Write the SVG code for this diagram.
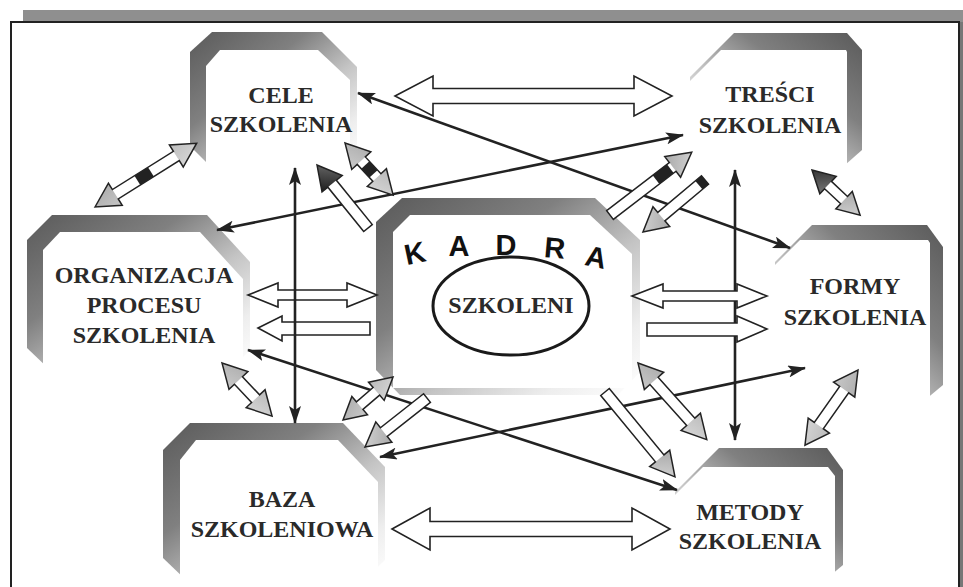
<svg xmlns="http://www.w3.org/2000/svg" width="963" height="587" viewBox="0 0 963 587">
<defs>
<linearGradient id="gl" x1="0" y1="0" x2="1" y2="1">
<stop offset="0" stop-color="#5a5a5a"/><stop offset="0.35" stop-color="#808080"/><stop offset="0.6" stop-color="#c4c4c4"/><stop offset="0.82" stop-color="#eeeeee"/><stop offset="1" stop-color="#ffffff"/>
</linearGradient>
<linearGradient id="gr" x1="1" y1="0" x2="0" y2="1">
<stop offset="0" stop-color="#5a5a5a"/><stop offset="0.35" stop-color="#808080"/><stop offset="0.6" stop-color="#c4c4c4"/><stop offset="0.82" stop-color="#eeeeee"/><stop offset="1" stop-color="#ffffff"/>
</linearGradient>
<linearGradient id="hg" x1="0" y1="0" x2="1" y2="1">
<stop offset="0" stop-color="#a9a9a9"/><stop offset="1" stop-color="#dadada"/>
</linearGradient>
<linearGradient id="hgd" x1="0" y1="0" x2="1" y2="1">
<stop offset="0" stop-color="#1e1e1e"/><stop offset="1" stop-color="#777"/>
</linearGradient>
<marker id="mk" viewBox="0 0 18 12" refX="17" refY="6" markerWidth="18" markerHeight="12" markerUnits="userSpaceOnUse" orient="auto-start-reverse">
<path d="M0,0 L18,6 L0,12 L4,6 Z" fill="#222"/>
</marker>
</defs>
<style>
.ol{fill:url(#gl)}
.or{fill:url(#gr)}
.in{fill:#fff}
.t{font-family:"Liberation Serif","Times New Roman",serif;font-weight:bold;font-size:24px;fill:#2a2a2a;text-anchor:middle}
.k{font-family:"Liberation Sans",Arial,sans-serif;font-weight:bold;font-size:29px;fill:#111;text-anchor:middle}
.ln{stroke:#222;stroke-width:2.6;fill:none;marker-start:url(#mk);marker-end:url(#mk)}
.hw{fill:#fff;stroke:#222;stroke-width:1.6}
.aw{fill:#fff}
.ah{fill:url(#hg)}
.ahd{fill:url(#hgd)}
.ao{fill:none;stroke:#222;stroke-width:1.5}
.db{fill:#222}
</style>

<g id="frame">
<rect x="23" y="10" width="940" height="12" fill="#8f8f8f"/>
<rect x="959" y="22" width="4" height="565" fill="#777"/>
<path d="M11,587 L11,22 L959,22 L959,587" fill="none" stroke="#222" stroke-width="2"/>
</g>

<g id="node-cele">
<path class="ol" d="M190,52 L212,32 L322,32 L357,67 L357,150 L340,168 L212,168 L190,146 Z"/>
<path class="in" d="M206,66 L220,50 L318,50 L350,80 L350,172 L206,172 Z"/>
<text class="t" x="281" y="103">CELE</text>
<text class="t" x="281" y="132">SZKOLENIA</text>
</g>

<g id="node-tresci">
<path class="or" d="M690,77 L734,33 L847,33 L862,50 L862,150 L845,165 L712,165 L690,145 Z"/>
<path class="in" d="M690,81 L721,50 L846,50 L847,52 L847,170 L686,170 L686,81 Z"/>
<text class="t" x="770" y="102">TREŚCI</text>
<text class="t" x="770" y="133">SZKOLENIA</text>
</g>

<g id="node-organizacja">
<path class="ol" d="M27,240 L52,215 L207,215 L250,262 L250,350 L230,370 L50,370 L27,348 Z"/>
<path class="in" d="M43,250 L60,232 L200,232 L243,279 L243,376 L43,376 Z"/>
<text class="t" x="144" y="283">ORGANIZACJA</text>
<text class="t" x="144" y="313">PROCESU</text>
<text class="t" x="144" y="343">SZKOLENIA</text>
</g>

<g id="node-kadra">
<path class="ol" d="M376,222 L402,198 L595,198 L640,240 L640,372 L618,395 L400,395 L376,370 Z"/>
<path class="in" d="M393,232 L410,215 L590,215 L632,254 L632,388 L393,388 Z"/>
<text class="k" x="417" y="263" transform="rotate(-12 417 263)">K</text>
<text class="k" x="459" y="256">A</text>
<text class="k" x="506" y="255">D</text>
<text class="k" x="554" y="258" transform="rotate(5 554 258)">R</text>
<text class="k" x="594" y="267" transform="rotate(12 594 267)">A</text>
<ellipse cx="511" cy="306" rx="78" ry="49" fill="none" stroke="#1a1a1a" stroke-width="3"/>
<text class="t" x="511" y="313">SZKOLENI</text>
</g>

<g id="node-formy">
<path class="or" d="M775,262 L812,225 L927,225 L943,247 L943,385 L925,400 L795,400 L775,380 Z"/>
<path class="in" d="M771,269 L800,240 L928,240 L930,243 L930,405 L771,405 Z"/>
<text class="t" x="855" y="294">FORMY</text>
<text class="t" x="855" y="325">SZKOLENIA</text>
</g>

<g id="node-baza">
<path class="ol" d="M163,450 L190,423 L343,423 L385,467 L385,560 L362,582 L188,582 L163,558 Z"/>
<path class="in" d="M180,460 L196,440 L338,440 L378,482 L378,587 L180,587 Z"/>
<text class="t" x="282" y="507">BAZA</text>
<text class="t" x="282" y="537">SZKOLENIOWA</text>
</g>

<g id="node-metody">
<path class="or" d="M675,492 L719,448 L827,448 L843,470 L843,565 L825,580 L695,580 L675,560 Z"/>
<path class="in" d="M671,499 L703,467 L828,467 L835,476 L835,587 L671,587 Z"/>
<text class="t" x="750" y="520">METODY</text>
<text class="t" x="750" y="549">SZKOLENIA</text>
</g>

<g id="connectors">
<line class="ln" x1="217" y1="230" x2="683" y2="135"/>
<line class="ln" x1="358" y1="93" x2="790" y2="248"/>
<line class="ln" x1="248" y1="350" x2="677" y2="490"/>
<line class="ln" x1="380" y1="457" x2="805" y2="368"/>
<line class="ln" x1="735" y1="170" x2="735" y2="440"/>

<path class="hw" d="M395,96 L433,76 L433,88.5 L634,88.5 L634,76 L672,96 L634,116 L634,103.5 L433,103.5 L433,116 Z"/>
<path class="hw" d="M392,529 L430,508 L430,521.5 L632,521.5 L632,508 L670,529 L632,550 L632,536.5 L430,536.5 L430,550 Z"/>
<path class="hw" d="M248,295 L278,283 L278,290 L347,290 L347,283 L377,295 L347,307 L347,300 L278,300 L278,307 Z"/>
<path class="hw" d="M258,328 L282,316 L282,322 L370,322 L370,335 L282,335 L282,341 Z"/>
<path class="hw" d="M632,296 L663,284 L663,291 L737,291 L737,284 L767,296 L737,308 L737,301 L663,301 L663,308 Z"/>
<path class="hw" d="M647,323 L737,323 L737,316 L767,329 L737,342 L737,336 L647,336 Z"/>

<line class="ln" x1="295" y1="168" x2="295" y2="423"/>

<g transform="translate(95,207) rotate(-32.1)">
<path class="aw" d="M0,0 L24,-13 L24,-5.5 L96,-5.5 L96,-13 L120,0 L96,13 L96,5.5 L24,5.5 L24,13 Z"/>
<path class="ah" d="M0,0 L24,-13 L24,13 Z M120,0 L96,-13 L96,13 Z"/>
<rect class="db" x="50" y="-5.5" width="16" height="11"/>
<path class="ao" d="M0,0 L24,-13 L24,-5.5 L96,-5.5 L96,-13 L120,0 L96,13 L96,5.5 L24,5.5 L24,13 Z"/>
</g>
<g transform="translate(368,228) rotate(-129)">
<path class="aw" d="M0,-5.5 L57,-5.5 L57,-13 L81,0 L57,13 L57,5.5 L0,5.5 Z"/>
<path class="ahd" d="M81,0 L57,-13 L57,13 Z"/>
<path class="ao" d="M0,-5.5 L57,-5.5 L57,-13 L81,0 L57,13 L57,5.5 L0,5.5 Z"/>
</g>
<g transform="translate(345,143) rotate(47.3)">
<path class="aw" d="M0,0 L24,-13 L24,-5.5 L47,-5.5 L47,-13 L71,0 L47,13 L47,5.5 L24,5.5 L24,13 Z"/>
<path class="ah" d="M0,0 L24,-13 L24,13 Z M71,0 L47,-13 L47,13 Z"/>
<rect class="db" x="30" y="-5.5" width="12" height="11"/>
<path class="ao" d="M0,0 L24,-13 L24,-5.5 L47,-5.5 L47,-13 L71,0 L47,13 L47,5.5 L24,5.5 L24,13 Z"/>
</g>
<g transform="translate(610,215) rotate(-37.5)">
<path class="aw" d="M0,-5.5 L79,-5.5 L79,-13 L103,0 L79,13 L79,5.5 L0,5.5 Z"/>
<path class="ah" d="M103,0 L79,-13 L79,13 Z"/>
<rect class="db" x="58" y="-5.5" width="18" height="11"/>
<path class="ao" d="M0,-5.5 L79,-5.5 L79,-13 L103,0 L79,13 L79,5.5 L0,5.5 Z"/>
</g>
<g transform="translate(705,180) rotate(140)">
<path class="aw" d="M0,-5.5 L57,-5.5 L57,-13 L81,0 L57,13 L57,5.5 L0,5.5 Z"/>
<path class="ah" d="M81,0 L57,-13 L57,13 Z"/>
<rect class="db" x="0" y="-5.5" width="8" height="11"/>
<path class="ao" d="M0,-5.5 L57,-5.5 L57,-13 L81,0 L57,13 L57,5.5 L0,5.5 Z"/>
</g>
<g transform="translate(812,170) rotate(43.2)">
<path class="aw" d="M0,0 L22,-12 L22,-5 L44,-5 L44,-12 L66,0 L44,12 L44,5 L22,5 L22,12 Z"/>
<path class="ahd" d="M0,0 L22,-12 L22,12 Z"/>
<path class="ah" d="M66,0 L44,-12 L44,12 Z"/>
<path class="ao" d="M0,0 L22,-12 L22,-5 L44,-5 L44,-12 L66,0 L44,12 L44,5 L22,5 L22,12 Z"/>
</g>
<g transform="translate(222,363) rotate(46.7)">
<path class="aw" d="M0,0 L24,-13 L24,-5.5 L49,-5.5 L49,-13 L73,0 L49,13 L49,5.5 L24,5.5 L24,13 Z"/>
<path class="ah" d="M0,0 L24,-13 L24,13 Z M73,0 L49,-13 L49,13 Z"/>
<path class="ao" d="M0,0 L24,-13 L24,-5.5 L49,-5.5 L49,-13 L73,0 L49,13 L49,5.5 L24,5.5 L24,13 Z"/>
</g>
<g transform="translate(343,420) rotate(-40.7)">
<path class="aw" d="M0,0 L22,-12 L22,-5 L44,-5 L44,-12 L66,0 L44,12 L44,5 L22,5 L22,12 Z"/>
<path class="ah" d="M0,0 L22,-12 L22,12 Z M66,0 L44,-12 L44,12 Z"/>
<path class="ao" d="M0,0 L22,-12 L22,-5 L44,-5 L44,-12 L66,0 L44,12 L44,5 L22,5 L22,12 Z"/>
</g>
<g transform="translate(427,398) rotate(141.7)">
<path class="aw" d="M0,-5.5 L55,-5.5 L55,-13 L79,0 L55,13 L55,5.5 L0,5.5 Z"/>
<path class="ah" d="M79,0 L55,-13 L55,13 Z"/>
<path class="ao" d="M0,-5.5 L55,-5.5 L55,-13 L79,0 L55,13 L55,5.5 L0,5.5 Z"/>
</g>
<g transform="translate(638,363) rotate(48.1)">
<path class="aw" d="M0,0 L24,-13 L24,-5.5 L79,-5.5 L79,-13 L103,0 L79,13 L79,5.5 L24,5.5 L24,13 Z"/>
<path class="ah" d="M0,0 L24,-13 L24,13 Z M103,0 L79,-13 L79,13 Z"/>
<path class="ao" d="M0,0 L24,-13 L24,-5.5 L79,-5.5 L79,-13 L103,0 L79,13 L79,5.5 L24,5.5 L24,13 Z"/>
</g>
<g transform="translate(605,392) rotate(50.5)">
<path class="aw" d="M0,-5.5 L86,-5.5 L86,-13 L110,0 L86,13 L86,5.5 L0,5.5 Z"/>
<path class="ah" d="M110,0 L86,-13 L86,13 Z"/>
<path class="ao" d="M0,-5.5 L86,-5.5 L86,-13 L110,0 L86,13 L86,5.5 L0,5.5 Z"/>
</g>
<g transform="translate(858,370) rotate(125.2)">
<path class="aw" d="M0,0 L24,-13 L24,-5.5 L68,-5.5 L68,-13 L92,0 L68,13 L68,5.5 L24,5.5 L24,13 Z"/>
<path class="ah" d="M0,0 L24,-13 L24,13 Z M92,0 L68,-13 L68,13 Z"/>
<path class="ao" d="M0,0 L24,-13 L24,-5.5 L68,-5.5 L68,-13 L92,0 L68,13 L68,5.5 L24,5.5 L24,13 Z"/>
</g>
</g>
</svg>
